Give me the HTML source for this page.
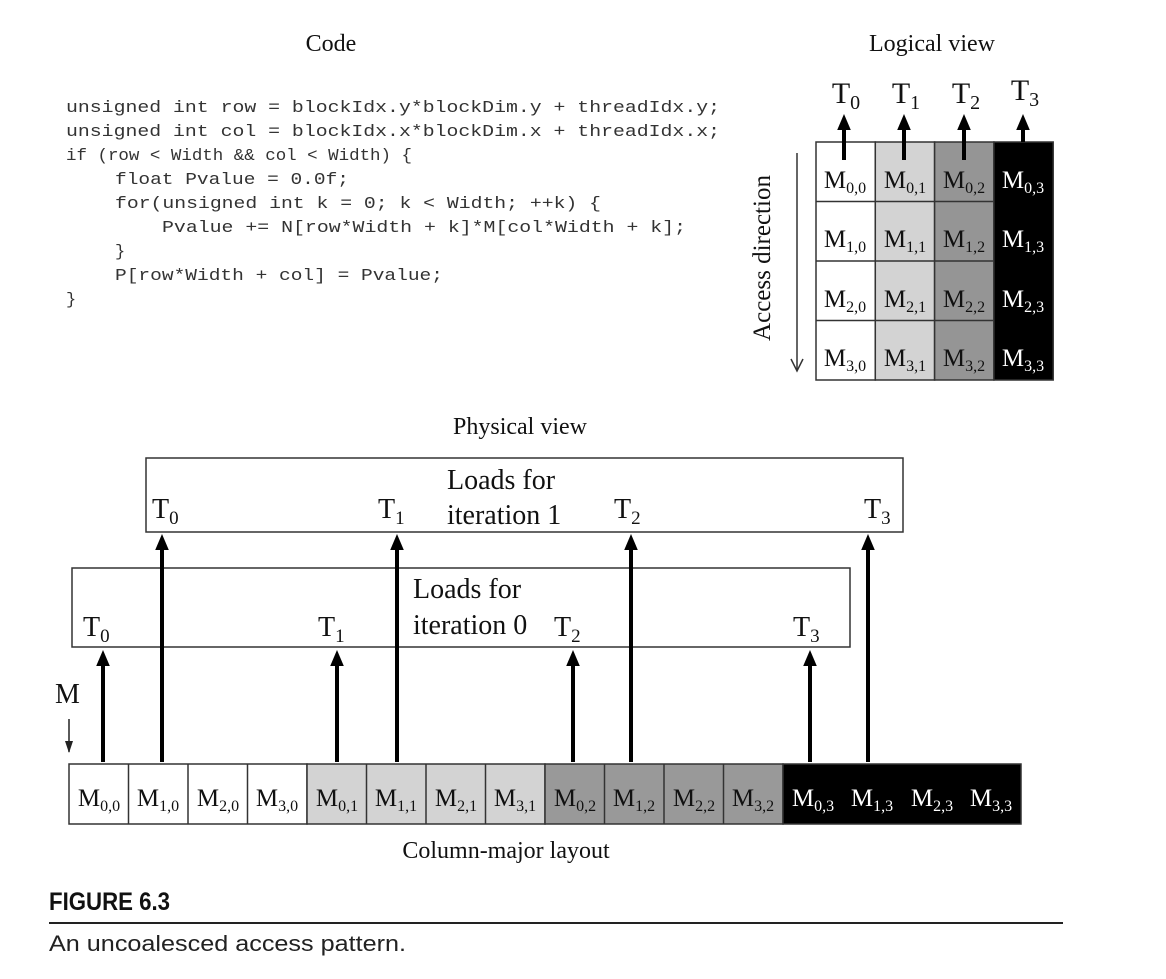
<!DOCTYPE html>
<html><head><meta charset="utf-8"><style>
html,body{margin:0;padding:0;background:#fff;}
svg{display:block;}
.s{font-family:"Liberation Serif",serif;}
.m{font-family:"Liberation Mono",monospace;font-size:17px;fill:#333;}
</style></head><body>
<svg width="1166" height="979" viewBox="0 0 1166 979" xmlns="http://www.w3.org/2000/svg">
<defs>
<marker id="ah" markerWidth="4" markerHeight="4" refX="2" refY="2" orient="auto" markerUnits="strokeWidth">
<path d="M0,0.3 L4,2 L0,3.7 z" fill="#000"/></marker>
</defs>
<g class="s" font-size="24" text-anchor="middle" fill="#111">
<text x="331" y="51">Code</text>
<text x="932" y="51">Logical view</text>
<text x="520" y="434">Physical view</text>
<text x="506" y="858">Column-major layout</text>
</g>
<g class="m">
<text x="66" y="112" textLength="654" lengthAdjust="spacingAndGlyphs">unsigned int row = blockIdx.y*blockDim.y + threadIdx.y;</text>
<text x="66" y="136" textLength="654" lengthAdjust="spacingAndGlyphs">unsigned int col = blockIdx.x*blockDim.x + threadIdx.x;</text>
<text x="66" y="160" textLength="346" lengthAdjust="spacingAndGlyphs">if (row &lt; Width &amp;&amp; col &lt; Width) {</text>
<text x="115" y="184" textLength="234" lengthAdjust="spacingAndGlyphs">float Pvalue = 0.0f;</text>
<text x="115" y="208" textLength="486" lengthAdjust="spacingAndGlyphs">for(unsigned int k = 0; k &lt; Width; ++k) {</text>
<text x="162" y="232" textLength="524" lengthAdjust="spacingAndGlyphs">Pvalue += N[row*Width + k]*M[col*Width + k];</text>
<text x="115" y="256">}</text>
<text x="115" y="280" textLength="328" lengthAdjust="spacingAndGlyphs">P[row*Width + col] = Pvalue;</text>
<text x="66" y="304">}</text>
</g>
<g stroke="#333" stroke-width="1.5">
<rect x="816" y="142" width="59.3" height="238" fill="#fff"/>
<rect x="875.3" y="142" width="59.3" height="238" fill="#d3d3d3"/>
<rect x="934.6" y="142" width="59.3" height="238" fill="#959595"/>
<rect x="993.9" y="142" width="59.3" height="238" fill="#000"/>
<line x1="816" y1="201.5" x2="994" y2="201.5"/>
<line x1="816" y1="261" x2="994" y2="261"/>
<line x1="816" y1="320.5" x2="994" y2="320.5"/>
</g>
<g class="s" font-size="25" text-anchor="middle">
<text x="845" y="188" fill="#111">M<tspan font-size="16" dy="5">0,0</tspan></text>
<text x="905" y="188" fill="#111">M<tspan font-size="16" dy="5">0,1</tspan></text>
<text x="964" y="188" fill="#111">M<tspan font-size="16" dy="5">0,2</tspan></text>
<text x="1023" y="188" fill="#fff">M<tspan font-size="16" dy="5">0,3</tspan></text>
<text x="845" y="247" fill="#111">M<tspan font-size="16" dy="5">1,0</tspan></text>
<text x="905" y="247" fill="#111">M<tspan font-size="16" dy="5">1,1</tspan></text>
<text x="964" y="247" fill="#111">M<tspan font-size="16" dy="5">1,2</tspan></text>
<text x="1023" y="247" fill="#fff">M<tspan font-size="16" dy="5">1,3</tspan></text>
<text x="845" y="307" fill="#111">M<tspan font-size="16" dy="5">2,0</tspan></text>
<text x="905" y="307" fill="#111">M<tspan font-size="16" dy="5">2,1</tspan></text>
<text x="964" y="307" fill="#111">M<tspan font-size="16" dy="5">2,2</tspan></text>
<text x="1023" y="307" fill="#fff">M<tspan font-size="16" dy="5">2,3</tspan></text>
<text x="845" y="366" fill="#111">M<tspan font-size="16" dy="5">3,0</tspan></text>
<text x="905" y="366" fill="#111">M<tspan font-size="16" dy="5">3,1</tspan></text>
<text x="964" y="366" fill="#111">M<tspan font-size="16" dy="5">3,2</tspan></text>
<text x="1023" y="366" fill="#fff">M<tspan font-size="16" dy="5">3,3</tspan></text>
</g>
<g stroke="#000" stroke-width="4" marker-end="url(#ah)">
<line x1="844" y1="160" x2="844" y2="122"/>
<line x1="904" y1="160" x2="904" y2="122"/>
<line x1="964" y1="160" x2="964" y2="122"/>
<line x1="1023" y1="142" x2="1023" y2="122"/>
</g>
<g class="s" font-size="30" fill="#111" text-anchor="middle">
<text x="846" y="103">T<tspan font-size="20" dy="6">0</tspan></text>
<text x="906" y="103">T<tspan font-size="20" dy="6">1</tspan></text>
<text x="966" y="103">T<tspan font-size="20" dy="6">2</tspan></text>
<text x="1025" y="100">T<tspan font-size="20" dy="6">3</tspan></text>
</g>
<text class="s" font-size="25" fill="#111" text-anchor="middle" transform="translate(770,258) rotate(-90)">Access direction</text>
<line x1="797" y1="153" x2="797" y2="370" stroke="#333" stroke-width="1.5"/>
<path d="M791,359 L797,371 L803,359" fill="none" stroke="#333" stroke-width="1.5"/>
<rect x="146" y="458" width="757" height="74" fill="none" stroke="#333" stroke-width="1.5"/>
<rect x="72" y="568" width="778" height="79" fill="none" stroke="#333" stroke-width="1.5"/>
<g class="s" font-size="28" fill="#111">
<text x="152" y="518">T<tspan font-size="19" dy="6">0</tspan></text>
<text x="378" y="518">T<tspan font-size="19" dy="6">1</tspan></text>
<text x="447" y="489">Loads for</text>
<text x="447" y="524">iteration 1</text>
<text x="614" y="518">T<tspan font-size="19" dy="6">2</tspan></text>
<text x="864" y="518">T<tspan font-size="19" dy="6">3</tspan></text>
<text x="83" y="636">T<tspan font-size="19" dy="6">0</tspan></text>
<text x="318" y="636">T<tspan font-size="19" dy="6">1</tspan></text>
<text x="413" y="598">Loads for</text>
<text x="413" y="634">iteration 0</text>
<text x="554" y="636">T<tspan font-size="19" dy="6">2</tspan></text>
<text x="793" y="636">T<tspan font-size="19" dy="6">3</tspan></text>
<text x="55" y="703">M</text>
</g>
<line x1="69" y1="719" x2="69" y2="752" stroke="#222" stroke-width="1.5"/>
<path d="M65,741 L69,753 L73,741 z" fill="#222"/>
<g stroke="#000" stroke-width="4" marker-end="url(#ah)">
<line x1="103" y1="762" x2="103" y2="658"/>
<line x1="337" y1="762" x2="337" y2="658"/>
<line x1="573" y1="762" x2="573" y2="658"/>
<line x1="810" y1="762" x2="810" y2="658"/>
<line x1="162" y1="762" x2="162" y2="542"/>
<line x1="397" y1="762" x2="397" y2="542"/>
<line x1="631" y1="762" x2="631" y2="542"/>
<line x1="868" y1="762" x2="868" y2="542"/>
</g>
<g stroke="#333" stroke-width="1.5">
<rect x="69" y="764" width="238" height="60" fill="#fff"/>
<rect x="307" y="764" width="238" height="60" fill="#d3d3d3"/>
<rect x="545" y="764" width="238" height="60" fill="#999"/>
<rect x="783" y="764" width="238" height="60" fill="#000"/>
<line x1="128.5" y1="764" x2="128.5" y2="824"/>
<line x1="188" y1="764" x2="188" y2="824"/>
<line x1="247.5" y1="764" x2="247.5" y2="824"/>
<line x1="366.5" y1="764" x2="366.5" y2="824"/>
<line x1="426" y1="764" x2="426" y2="824"/>
<line x1="485.5" y1="764" x2="485.5" y2="824"/>
<line x1="604.5" y1="764" x2="604.5" y2="824"/>
<line x1="664" y1="764" x2="664" y2="824"/>
<line x1="723.5" y1="764" x2="723.5" y2="824"/>
</g>
<g class="s" font-size="25" text-anchor="middle" fill="#111">
<text x="99" y="806">M<tspan font-size="16" dy="5">0,0</tspan></text>
<text x="158" y="806">M<tspan font-size="16" dy="5">1,0</tspan></text>
<text x="218" y="806">M<tspan font-size="16" dy="5">2,0</tspan></text>
<text x="277" y="806">M<tspan font-size="16" dy="5">3,0</tspan></text>
<text x="337" y="806">M<tspan font-size="16" dy="5">0,1</tspan></text>
<text x="396" y="806">M<tspan font-size="16" dy="5">1,1</tspan></text>
<text x="456" y="806">M<tspan font-size="16" dy="5">2,1</tspan></text>
<text x="515" y="806">M<tspan font-size="16" dy="5">3,1</tspan></text>
<text x="575" y="806">M<tspan font-size="16" dy="5">0,2</tspan></text>
<text x="634" y="806">M<tspan font-size="16" dy="5">1,2</tspan></text>
<text x="694" y="806">M<tspan font-size="16" dy="5">2,2</tspan></text>
<text x="753" y="806">M<tspan font-size="16" dy="5">3,2</tspan></text>
<g fill="#fff">
<text x="813" y="806">M<tspan font-size="16" dy="5">0,3</tspan></text>
<text x="872" y="806">M<tspan font-size="16" dy="5">1,3</tspan></text>
<text x="932" y="806">M<tspan font-size="16" dy="5">2,3</tspan></text>
<text x="991" y="806">M<tspan font-size="16" dy="5">3,3</tspan></text>
</g>
</g>
<text x="49" y="910" font-family="Liberation Sans,sans-serif" font-weight="bold" font-size="25" fill="#111" textLength="121" lengthAdjust="spacingAndGlyphs">FIGURE 6.3</text>
<line x1="49" y1="923" x2="1063" y2="923" stroke="#222" stroke-width="2"/>
<text x="49" y="951" font-family="Liberation Sans,sans-serif" font-size="22" fill="#222" textLength="357" lengthAdjust="spacingAndGlyphs">An uncoalesced access pattern.</text>
</svg>
</body></html>
